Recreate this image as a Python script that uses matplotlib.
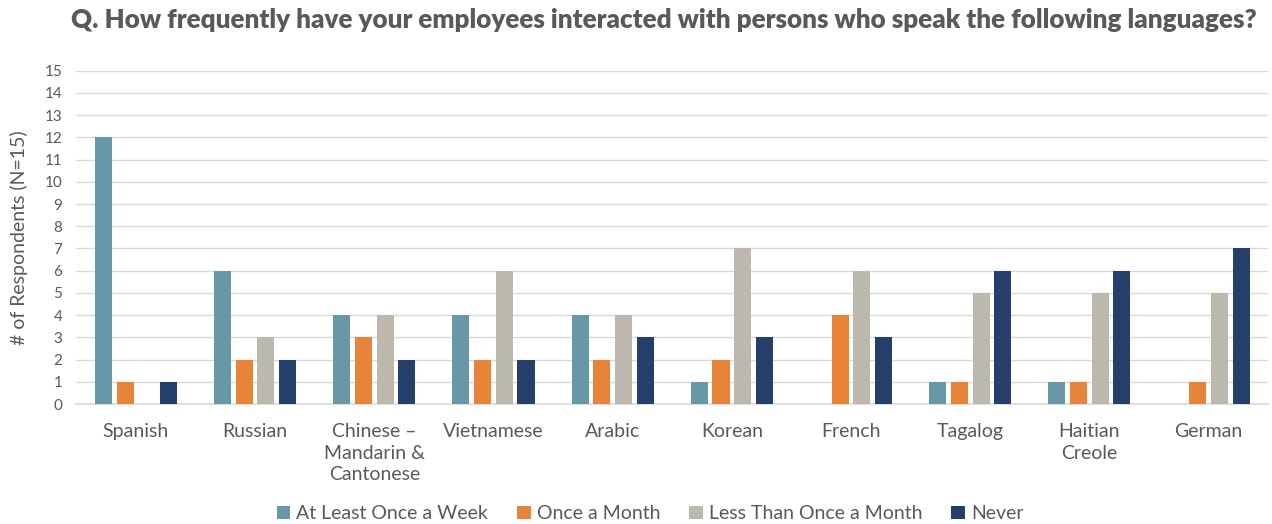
import numpy as np
import matplotlib
matplotlib.use("Agg")
import matplotlib.pyplot as plt

plt.rcParams['font.family'] = ['Lato', 'DejaVu Sans']

languages = ['Spanish', 'Russian', 'Chinese –\nMandarin &\nCantonese', 'Vietnamese',
             'Arabic', 'Korean', 'French', 'Tagalog', 'Haitian\nCreole', 'German']
weekly = [12, 6, 4, 4, 4, 1, 0, 1, 1, 0]
monthly = [1, 2, 3, 2, 2, 2, 4, 1, 1, 1]
less_monthly = [0, 3, 4, 6, 4, 7, 6, 5, 5, 5]
never = [1, 2, 2, 2, 3, 3, 3, 6, 6, 7]

series = [('At Least Once a Week', weekly, '#6897a7'),
          ('Once a Month', monthly, '#e8833a'),
          ('Less Than Once a Month', less_monthly, '#bdb8ad'),
          ('Never', never, '#243f6a')]

text_col = '#595959'
fig = plt.figure(figsize=(12.72, 5.24), dpi=100)
ax = fig.add_axes([0.06, 0.229, 0.937, 0.636])

x = np.arange(len(languages))
step = 0.182
width = 0.143
for i, (name, vals, col) in enumerate(series):
    ax.bar(x + (i - 1.5) * step, vals, width, color=col, label=name, zorder=3)

ax.set_xlim(-0.5, len(languages) - 0.5)
ax.set_ylim(0, 15)
ax.set_yticks(range(0, 16))
ax.grid(axis='y', color='#d9d9d9', linewidth=1, zorder=0)
for s in ['top', 'right', 'left']:
    ax.spines[s].set_visible(False)
ax.spines['bottom'].set_color('#d9d9d9')
ax.spines['bottom'].set_linewidth(1.2)
ax.tick_params(length=0, colors=text_col)
ax.tick_params(axis='y', labelsize=11, pad=10)
ax.tick_params(axis='x', labelsize=14, pad=14)
ax.set_xticks(x)
ax.set_xticklabels(languages, linespacing=1.3)
ax.set_ylabel('# of Respondents (N=15)', fontsize=14, color=text_col, labelpad=12)

fig.suptitle('Q. How frequently have your employees interacted with persons who speak the following languages?',
             fontsize=18.7, fontweight='heavy', color=text_col, x=0.522, y=0.985)

fig.legend(loc='lower center', ncol=4, frameon=False, fontsize=14,
           bbox_to_anchor=(0.511, -0.03), handlelength=0.7, handleheight=0.7,
           handletextpad=0.3, columnspacing=1.5, labelcolor=text_col)

fig.savefig('out.png', dpi=100)
